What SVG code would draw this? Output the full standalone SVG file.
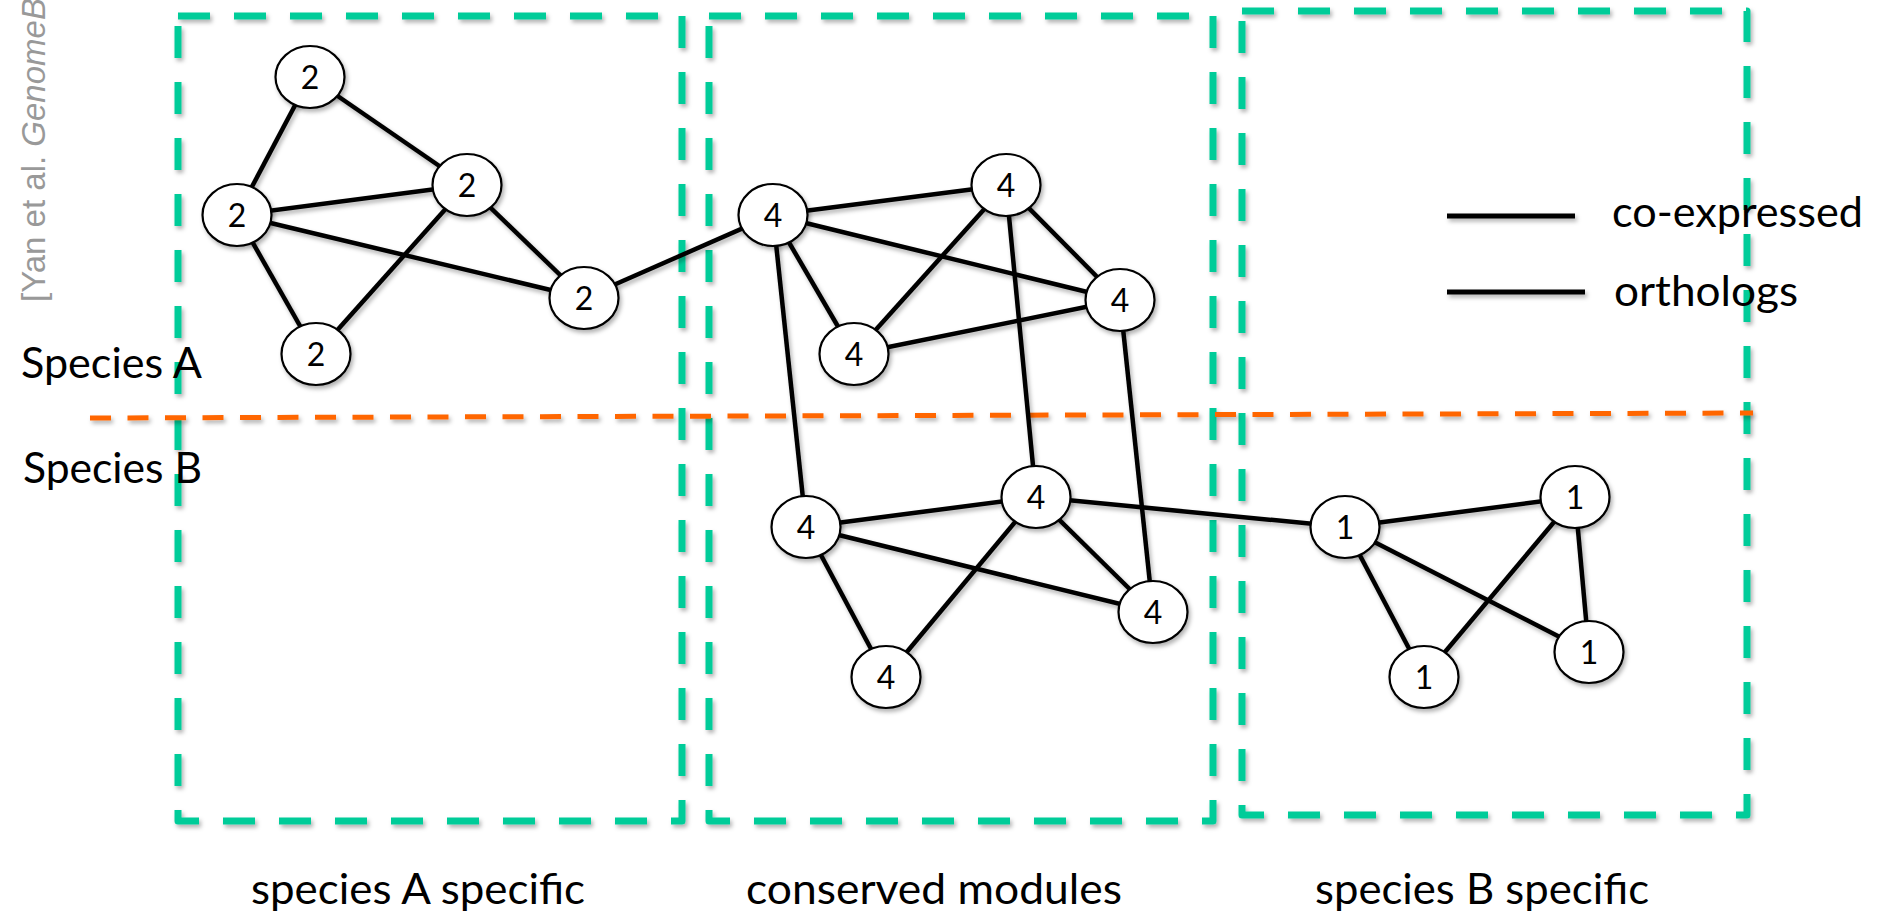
<svg xmlns="http://www.w3.org/2000/svg" width="1880" height="912" viewBox="0 0 1880 912">
  <defs>
    <filter id="shadow" filterUnits="userSpaceOnUse" x="0" y="0" width="1880" height="912">
      <feDropShadow dx="2" dy="3" stdDeviation="2" flood-color="#000" flood-opacity="0.3"/>
    </filter>
    <style>
      .box { fill: none; stroke: #00CC99; stroke-width: 7; stroke-dasharray: 32 24; stroke-linejoin: round; }
      .divider { fill: none; stroke: #FF6600; stroke-width: 5; stroke-dasharray: 21 16.5; }
      .edge { stroke: #000; stroke-width: 4.5; }
      .node ellipse { fill: #fff; stroke: #000; stroke-width: 2.2; }
      .num { font-family: Lato, "Open Sans", sans-serif; font-size: 32px; text-anchor: middle; fill: #000; }
      .label { font-family: Lato, "Open Sans", sans-serif; font-size: 42px; fill: #000; }
      .legend-line { stroke: #000; stroke-width: 5; }
      .credit { font-family: "Liberation Sans", Arial, sans-serif; font-size: 33px; fill: #999; }
    </style>
  </defs>

  <rect width="1880" height="912" fill="#fff"/>

  <!-- credit line along the left margin -->
  <text class="credit" transform="translate(45,302) rotate(-90)">[Yan et al. <tspan font-style="italic">GenomeBi</tspan></text>

  <!-- module regions -->
  <g id="regions" filter="url(#shadow)">
    <path id="region-a" class="box" d="M178,16 H682 V821 H178 Z"/>
    <path id="region-conserved" class="box" d="M709,16 H1213 V821 H709 Z"/>
    <path id="region-b" class="box" d="M1242,11 H1747 V815 H1242 Z"/>
  </g>

  <!-- species divider -->
  <line id="species-divider" class="divider" x1="90" y1="418" x2="1753" y2="413" filter="url(#shadow)"/>

  <!-- species labels -->
  <text class="label" x="21" y="378" textLength="181" lengthAdjust="spacingAndGlyphs">Species A</text>
  <text class="label" x="23" y="483" textLength="179" lengthAdjust="spacingAndGlyphs">Species B</text>

  <!-- legend -->
  <g id="legend">
    <line class="legend-line" x1="1447" y1="216" x2="1575" y2="216" filter="url(#shadow)"/>
    <line class="legend-line" x1="1447" y1="292" x2="1585" y2="292" filter="url(#shadow)"/>
    <text class="label" x="1612" y="227" textLength="251" lengthAdjust="spacingAndGlyphs">co-expressed</text>
    <text class="label" x="1614" y="306" textLength="184" lengthAdjust="spacingAndGlyphs">orthologs</text>
  </g>

  <!-- connectors -->
  <g id="connectors" class="edge" filter="url(#shadow)">
    <line x1="310" y1="77" x2="237" y2="215"/>
    <line x1="310" y1="77" x2="467" y2="185"/>
    <line x1="237" y1="215" x2="467" y2="185"/>
    <line x1="237" y1="215" x2="584" y2="298"/>
    <line x1="237" y1="215" x2="316" y2="354"/>
    <line x1="467" y1="185" x2="316" y2="354"/>
    <line x1="467" y1="185" x2="584" y2="298"/>
    <line x1="584" y1="298" x2="773" y2="215"/>

    <line x1="773" y1="215" x2="1006" y2="185"/>
    <line x1="773" y1="215" x2="1120" y2="300"/>
    <line x1="773" y1="215" x2="854" y2="354"/>
    <line x1="1006" y1="185" x2="854" y2="354"/>
    <line x1="1006" y1="185" x2="1120" y2="300"/>
    <line x1="854" y1="354" x2="1120" y2="300"/>

    <line x1="773" y1="215" x2="806" y2="527"/>
    <line x1="1006" y1="185" x2="1036" y2="497"/>
    <line x1="1120" y1="300" x2="1153" y2="612"/>

    <line x1="806" y1="527" x2="1036" y2="497"/>
    <line x1="806" y1="527" x2="1153" y2="612"/>
    <line x1="806" y1="527" x2="886" y2="677"/>
    <line x1="1036" y1="497" x2="886" y2="677"/>
    <line x1="1036" y1="497" x2="1153" y2="612"/>
    <line x1="1036" y1="497" x2="1345" y2="527"/>

    <line x1="1345" y1="527" x2="1575" y2="497"/>
    <line x1="1345" y1="527" x2="1589" y2="652"/>
    <line x1="1345" y1="527" x2="1424" y2="677"/>
    <line x1="1575" y1="497" x2="1424" y2="677"/>
    <line x1="1575" y1="497" x2="1589" y2="652"/>
  </g>

  <!-- species A module -->
  <g id="node-a1" class="node"><ellipse cx="310" cy="77" rx="34.5" ry="31" filter="url(#shadow)"/><text class="num" x="310" y="88.5">2</text></g>
  <g id="node-a2" class="node"><ellipse cx="237" cy="215" rx="34.5" ry="31" filter="url(#shadow)"/><text class="num" x="237" y="226.5">2</text></g>
  <g id="node-a3" class="node"><ellipse cx="467" cy="185" rx="34.5" ry="31" filter="url(#shadow)"/><text class="num" x="467" y="196.5">2</text></g>
  <g id="node-a4" class="node"><ellipse cx="316" cy="354" rx="34.5" ry="31" filter="url(#shadow)"/><text class="num" x="316" y="365.5">2</text></g>
  <g id="node-a5" class="node"><ellipse cx="584" cy="298" rx="34.5" ry="31" filter="url(#shadow)"/><text class="num" x="584" y="309.5">2</text></g>

  <!-- conserved module, species A side -->
  <g id="node-c1" class="node"><ellipse cx="773" cy="215" rx="34.5" ry="31" filter="url(#shadow)"/><text class="num" x="773" y="226.5">4</text></g>
  <g id="node-c2" class="node"><ellipse cx="1006" cy="185" rx="34.5" ry="31" filter="url(#shadow)"/><text class="num" x="1006" y="196.5">4</text></g>
  <g id="node-c3" class="node"><ellipse cx="1120" cy="300" rx="34.5" ry="31" filter="url(#shadow)"/><text class="num" x="1120" y="311.5">4</text></g>
  <g id="node-c4" class="node"><ellipse cx="854" cy="354" rx="34.5" ry="31" filter="url(#shadow)"/><text class="num" x="854" y="365.5">4</text></g>

  <!-- conserved module, species B side -->
  <g id="node-c5" class="node"><ellipse cx="806" cy="527" rx="34.5" ry="31" filter="url(#shadow)"/><text class="num" x="806" y="538.5">4</text></g>
  <g id="node-c6" class="node"><ellipse cx="1036" cy="497" rx="34.5" ry="31" filter="url(#shadow)"/><text class="num" x="1036" y="508.5">4</text></g>
  <g id="node-c7" class="node"><ellipse cx="886" cy="677" rx="34.5" ry="31" filter="url(#shadow)"/><text class="num" x="886" y="688.5">4</text></g>
  <g id="node-c8" class="node"><ellipse cx="1153" cy="612" rx="34.5" ry="31" filter="url(#shadow)"/><text class="num" x="1153" y="623.5">4</text></g>

  <!-- species B module -->
  <g id="node-b1" class="node"><ellipse cx="1345" cy="527" rx="34.5" ry="31" filter="url(#shadow)"/><text class="num" x="1345" y="538.5">1</text></g>
  <g id="node-b2" class="node"><ellipse cx="1575" cy="497" rx="34.5" ry="31" filter="url(#shadow)"/><text class="num" x="1575" y="508.5">1</text></g>
  <g id="node-b3" class="node"><ellipse cx="1589" cy="652" rx="34.5" ry="31" filter="url(#shadow)"/><text class="num" x="1589" y="663.5">1</text></g>
  <g id="node-b4" class="node"><ellipse cx="1424" cy="677" rx="34.5" ry="31" filter="url(#shadow)"/><text class="num" x="1424" y="688.5">1</text></g>

  <!-- region captions -->
  <text class="label" x="251" y="904" textLength="334" lengthAdjust="spacingAndGlyphs">species A specific</text>
  <text class="label" x="746" y="904" textLength="376" lengthAdjust="spacingAndGlyphs">conserved modules</text>
  <text class="label" x="1315" y="904" textLength="334" lengthAdjust="spacingAndGlyphs">species B specific</text>
</svg>
